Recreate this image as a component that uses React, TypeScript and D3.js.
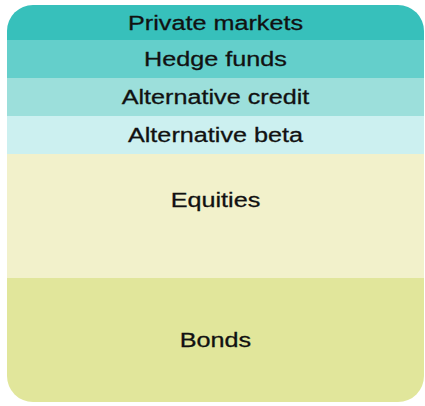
import * as d3 from "d3";

const categories = [
  "Private markets",
  "Hedge funds",
  "Alternative credit",
  "Alternative beta",
  "Equities",
  "Bonds",
];
const shares = [35, 38, 38, 38, 124, 124];
const colors = ["#37c0bb", "#64cfcb", "#9cdfdb", "#ccf0f0", "#f2f1cb", "#e1e69b"];

const labelShift: { [key: string]: number } = { Equities: -16 };

const width = 425;
const height = 406;
const margin = { top: 5, right: 1, bottom: 4, left: 7 };

const App = () => {
  const ends = Array.from(d3.cumsum(shares));
  const total = d3.sum(shares);
  const y = d3
    .scaleLinear()
    .domain([0, total])
    .range([margin.top, height - margin.bottom]);
  const x0 = margin.left;
  const x1 = width - margin.right;
  const cx = (x0 + x1) / 2;

  return (
    <svg
      width={width}
      height={height}
      style={{ position: "absolute", left: 0, top: 0, background: "#fff" }}
      fontFamily="'Liberation Sans', Arial, sans-serif"
    >
      <defs>
        <clipPath id="box">
          <rect
            x={x0}
            y={y(0)}
            width={x1 - x0}
            height={y(total) - y(0)}
            rx={26}
            ry={26}
          />
        </clipPath>
      </defs>
      <g clipPath="url(#box)">
        {categories.map((c, i) => {
          const top = y(ends[i] - shares[i]);
          const bottom = y(ends[i]);
          return (
            <rect
              key={c}
              x={x0}
              y={top}
              width={x1 - x0}
              height={bottom - top + 0.5}
              fill={colors[i]}
            />
          );
        })}
      </g>
      {categories.map((c, i) => {
        const mid = (y(ends[i] - shares[i]) + y(ends[i])) / 2 + (labelShift[c] || 0);
        return (
          <text
            key={c}
            transform={`translate(${cx},${mid}) scale(1.2,1)`}
            textAnchor="middle"
            dominantBaseline="central"
            fontSize={21}
            fill="#111"
            stroke="#111"
            strokeWidth={0.3}
          >
            {c}
          </text>
        );
      })}
    </svg>
  );
};

export default App;
